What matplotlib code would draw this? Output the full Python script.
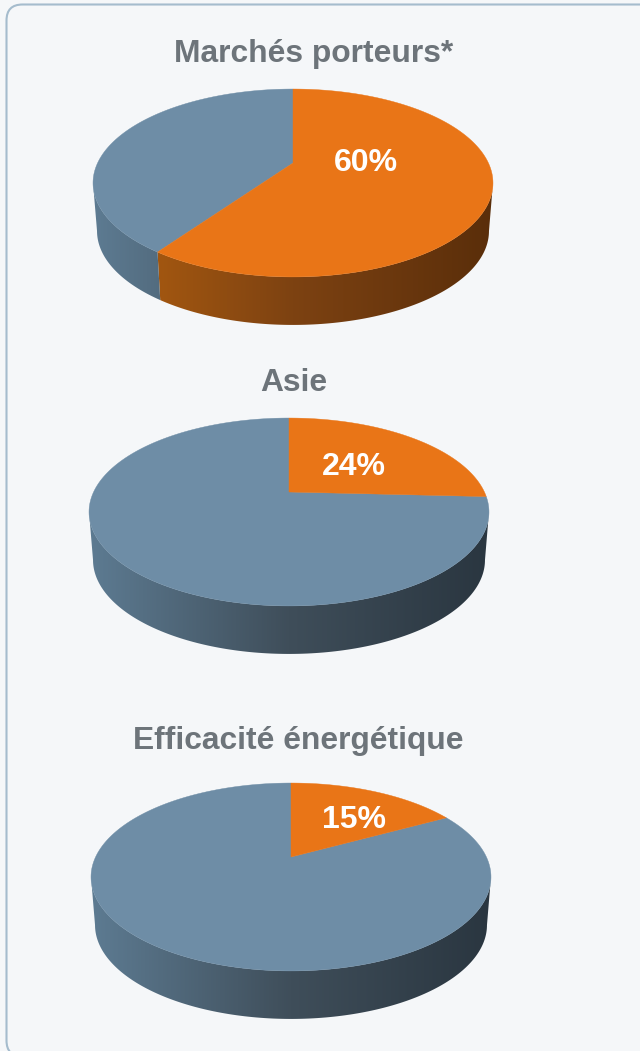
import matplotlib
matplotlib.use("Agg")
import matplotlib.pyplot as plt
import numpy as np
from matplotlib.patches import FancyBboxPatch, Polygon

plt.rcParams['font.family'] = ['Liberation Sans', 'DejaVu Sans']

# Data
titles = ["Marchés porteurs*", "Asie", "Efficacité énergétique"]
slice_shares = [59.7, 25.8, 17.0]   # size of the orange slice as drawn
slice_labels = ["60%", "24%", "15%"]

# Layout, in pixels of the 640x1051 picture
apex_x = [293, 289, 291]
apex_y = [163, 492, 857]
title_xy = [(313.5, 62), (294, 391), (298, 748.5)]
label_xy = [(366, 171), (354, 475), (354, 828)]

A = 195.4   # horizontal scale of the disc
B = 89.7    # vertical scale of the disc
K = 0.2127  # perspective
DEPTH = 48

ORANGE = "#e97517"
BLUE = "#6e8da6"
ORANGE_SIDE = ("#b3600f", "#7d4212", "#5a2e0a")
BLUE_SIDE = ("#5d7b92", "#3f4e5a", "#2a3640")


def rim(t):
    # clockwise angle from 12 o'clock to offsets on the tilted disc
    u, v = np.sin(t), np.cos(t)
    w = 1 + K * v
    return A * u / w, -B * v / w


def arc(start, end):
    n = max(2, int(abs(end - start) * 60))
    return np.linspace(start, end, n)


def side_ramp(cols):
    # left, middle and right colour of the side wall as a 1 row image
    stops = np.array([matplotlib.colors.to_rgb(c) for c in cols])
    pos = np.linspace(0, 1, 256)
    return np.stack([np.interp(pos, [0, 0.5, 1], stops[:, j]) for j in range(3)], axis=1)[None, :, :]


fig = plt.figure(figsize=(6.4, 10.51), dpi=100, facecolor="#f5f7f9")
ax = fig.add_axes([0, 0, 1, 1])
ax.axis("off")

# Card border, runs off the right and bottom of the picture
ax.add_patch(FancyBboxPatch((6.5, 4.5), 680, 1052, boxstyle="round,pad=0,rounding_size=16",
                            fc="#f5f7f9", ec="#a5bccd", lw=1.5))

# back-facing part of the rim has no side wall
vis_a = np.pi - np.arccos(K)
vis_b = np.pi + np.arccos(K)

for i in range(3):
    cx, cy = apex_x[i], apex_y[i]
    end = slice_shares[i] / 100 * 2 * np.pi

    # Side wall, one gradient per slice
    parts = [(0, end, ORANGE_SIDE), (end, 2 * np.pi, BLUE_SIDE)]
    for a0, a1, cols in parts:
        lo, hi = max(a0, vis_a), min(a1, vis_b)
        if lo >= hi:
            continue
        t = arc(lo, hi)
        dx, dy = rim(t)
        top = np.c_[cx + dx, cy + dy]
        bottom = np.c_[cx + dx * 0.98, cy + dy + DEPTH][::-1]
        poly = Polygon(np.vstack([top, bottom]), closed=True, fc="none", ec="none")
        ax.add_patch(poly)
        im = ax.imshow(side_ramp(cols), extent=(cx - 200, cx + 200, cy + 180, cy - 100),
                       aspect="auto", zorder=1)
        im.set_clip_path(poly)

    # Top face
    for a0, a1, col in [(end, 2 * np.pi, BLUE), (0, end, ORANGE)]:
        dx, dy = rim(arc(a0, a1))
        pts = np.vstack([[cx, cy], np.c_[cx + dx, cy + dy]])
        ax.add_patch(Polygon(pts, closed=True, fc=col, ec=col, lw=0.3, zorder=2))

    ax.text(title_xy[i][0], title_xy[i][1], titles[i], ha="center", va="baseline", fontsize=22.9,
            fontweight="bold", color="#6d747a", zorder=3)
    ax.text(label_xy[i][0], label_xy[i][1], slice_labels[i], ha="center", va="baseline",
            fontsize=23, fontweight="bold", color="white", zorder=3)

ax.set_xlim(0, 640)
ax.set_ylim(1051, 0)

fig.savefig("out.png", dpi=100, facecolor=fig.get_facecolor())
